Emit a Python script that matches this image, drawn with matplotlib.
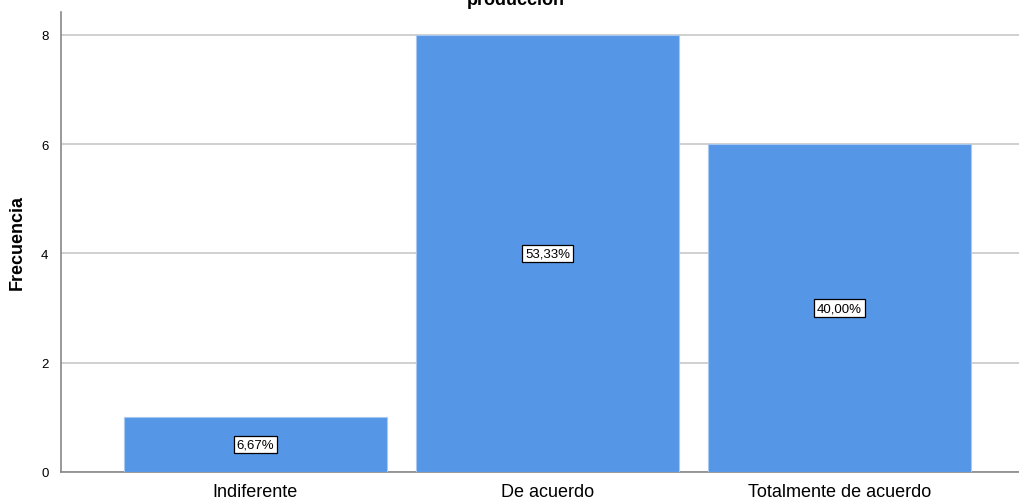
import numpy as np
import matplotlib.pyplot as plt

plt.rcParams['font.family'] = ['Liberation Sans', 'DejaVu Sans']

categorias = ['Indiferente', 'De acuerdo', 'Totalmente de acuerdo']
frecuencia = [1, 8, 6]
porcentajes = ['6,67%', '53,33%', '40,00%']

fig = plt.figure(figsize=(10.19, 5.02), dpi=100)
ax = fig.add_axes([61/1019, 29/502, 1 - 61/1019, 460/502])

x = np.arange(len(categorias))
ax.bar(x, frecuencia, width=0.9, color='#5596e6', edgecolor='#a9c8f0', linewidth=0.8, zorder=3)

# etiquetas de porcentaje en el centro de cada barra
for xi, f, p in zip(x, frecuencia, porcentajes):
    ax.text(xi, f / 2, p, ha='center', va='center', fontsize=9.5, zorder=4,
            bbox=dict(boxstyle='square,pad=0.2', facecolor='white', edgecolor='black', linewidth=0.9))

ax.set_xlim(-0.666, 2.615)
ax.set_ylim(0, 8.42)
ax.set_yticks([0, 2, 4, 6, 8])
ax.set_xticks(x)
ax.set_xticklabels(categorias, fontsize=13)
ax.tick_params(axis='y', length=0, pad=9, labelsize=9.5)
ax.tick_params(axis='x', length=0, pad=8)
ax.yaxis.grid(True, color='#c8c8c8', linewidth=1.2, zorder=0)
ax.set_axisbelow(True)

for s in ['top', 'right']:
    ax.spines[s].set_visible(False)
ax.spines['left'].set_color('#888888')
ax.spines['bottom'].set_color('#888888')
ax.spines['left'].set_linewidth(1.2)
ax.spines['bottom'].set_linewidth(1.2)

ax.set_ylabel('Frecuencia', fontsize=13, fontweight='bold', labelpad=11)
# el título aparece recortado en el borde superior, como en la referencia
fig.text(516/1019, 1 - 5/502, 'producción', ha='center', va='baseline',
         fontsize=13, fontweight='bold')

fig.savefig('out.png', dpi=100)
